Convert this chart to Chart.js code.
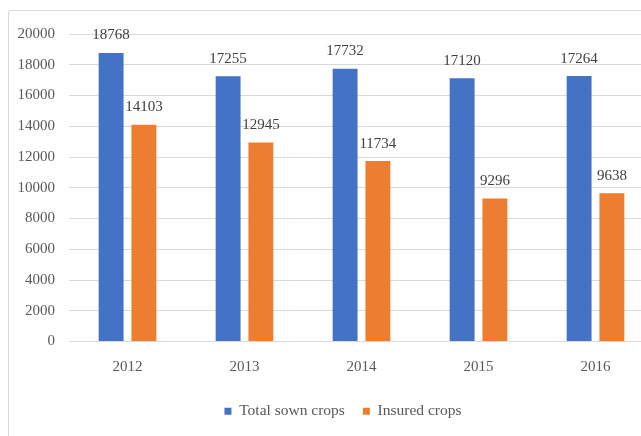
<!DOCTYPE html>
<html>
<head>
<meta charset="utf-8">
<script src="https://cdn.jsdelivr.net/npm/chart.js@4.4.0/dist/chart.umd.min.js"></script>
<style>
  html, body { margin: 0; padding: 0; background: #fff; overflow: hidden; width: 641px; height: 436px; }
  #frame { position: absolute; left: 8px; top: 10px; width: 700px; height: 500px; border: 1px solid #d9d9d9; border-radius: 2px; }
  #wrap { position: absolute; left: 0; top: 0; width: 680px; height: 436px; }
</style>
</head>
<body>
<div id="frame"></div>
<div id="wrap"><canvas id="cropChart" width="680" height="436"></canvas></div>
<script>
const years = ['2012', '2013', '2014', '2015', '2016'];
const totalSown = [18768, 17255, 17732, 17120, 17264];
const insured = [14103, 12945, 11734, 9296, 9638];
const yTicks = [0, 2000, 4000, 6000, 8000, 10000, 12000, 14000, 16000, 18000, 20000];

const serif = "'Liberation Serif', 'Times New Roman', serif";

// value labels above each bar
const barLabels = {
  id: 'barLabels',
  afterDatasetsDraw(chart) {
    const ctx = chart.ctx;
    ctx.save();
    ctx.font = '15px ' + serif;
    ctx.fillStyle = '#404040';
    ctx.textAlign = 'center';
    ctx.textBaseline = 'bottom';
    chart.data.datasets.forEach((ds, i) => {
      chart.getDatasetMeta(i).data.forEach((bar, j) => {
        ctx.fillText(ds.data[j], bar.x, bar.y - 10);
      });
    });
    ctx.restore();
  }
};

// nudge the legend so it sits where the original one is
const legendShift = {
  id: 'legendShift',
  afterLayout(chart) {
    const lg = chart.legend;
    if (!lg) return;
    const dx = 11, dy = 0;
    lg.left += dx; lg.right += dx;
    lg.top += dy; lg.bottom += dy;
    (lg.legendHitBoxes || []).forEach(b => { b.left += dx; b.top += dy; });
  }
};

new Chart(document.getElementById('cropChart'), {
  type: 'bar',
  data: {
    labels: years,
    datasets: [{
      label: 'Total sown crops',
      data: totalSown,
      backgroundColor: '#4472C4',
      barPercentage: 0.76,
      categoryPercentage: 0.56
    }, {
      label: 'Insured crops',
      data: insured,
      backgroundColor: '#ED7D31',
      barPercentage: 0.76,
      categoryPercentage: 0.56
    }]
  },
  options: {
    responsive: false,
    animation: false,
    layout: { padding: { left: 10, right: 26, top: 34, bottom: 7 } },
    plugins: {
      legend: {
        position: 'bottom',
        labels: {
          font: { family: serif, size: 15.5 },
          color: '#595959',
          boxWidth: 7,
          boxHeight: 7,
          padding: 18
        }
      },
      tooltip: { enabled: false }
    },
    scales: {
      x: {
        grid: { display: false },
        border: { display: false },
        ticks: { font: { family: serif, size: 15 }, color: '#595959', padding: 9 }
      },
      y: {
        min: 0,
        max: 20000,
        afterBuildTicks: s => { s.ticks = yTicks.map(v => ({ value: v })); },
        afterFit: s => { s.width = 59; },
        grid: { color: '#d9d9d9', drawTicks: false },
        border: { display: false },
        ticks: { font: { family: serif, size: 15 }, color: '#595959', padding: 14, callback: v => String(v) }
      }
    }
  },
  plugins: [barLabels, legendShift]
});
</script>
</body>
</html>
